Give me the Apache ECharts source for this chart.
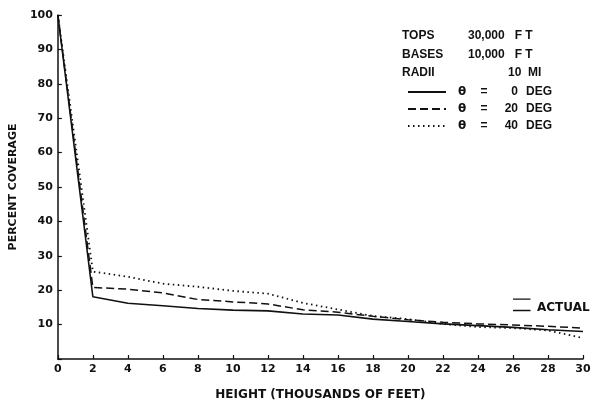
<!DOCTYPE html>
<html><head><meta charset="utf-8">
<script src="https://cdn.jsdelivr.net/npm/echarts@6/dist/echarts.min.js"></script>
<style>html,body{margin:0;padding:0;background:#fff}#c{width:605px;height:406px}</style>
</head><body><div id="c"></div>
<script>
const heights = [0, 2, 4, 6, 8, 10, 12, 14, 16, 18, 20, 22, 24, 26, 28, 30];
const theta0 = [100, 18.1, 16.2, 15.5, 14.7, 14.2, 14.0, 13.1, 12.8, 11.6, 10.9, 10.2, 9.7, 9.2, 8.5, 8.0];
const theta20 = [100, 20.8, 20.3, 19.2, 17.3, 16.6, 16.0, 14.3, 13.6, 12.4, 11.4, 10.7, 10.2, 9.9, 9.5, 9.0];
const theta40 = [100, 25.4, 23.9, 21.9, 21.0, 19.8, 19.0, 16.3, 14.4, 12.5, 11.6, 10.2, 9.3, 9.0, 8.3, 6.1];
const seriesNames = ['θ = 0 DEG', 'θ = 20 DEG', 'θ = 40 DEG'];
const actualX = [26, 27];
const actualHigh = 17.4;
const actualLow = 14.1;
const xTicks = [0,2,4,6,8,10,12,14,16,18,20,22,24,26,28,30];
const yTicks = [10,20,30,40,50,60,70,80,90,100];

const FONT = 'DejaVu Sans';
const LFONT = 'Liberation Sans';
const HFONT = 'bold 12px "Liberation Sans"';
const pairs = arr => heights.map((h, i) => [h, arr[i]]);
const chart = echarts.init(document.getElementById('c'), null, {renderer: 'canvas'});
const lineBase = {type: 'line', symbol: 'none', silent: true, animation: false};
chart.setOption({
  animation: false,
  backgroundColor: '#fff',
  grid: {left: 55, right: 22, top: 15, bottom: 43, containLabel: false},
  xAxis: {
    type: 'value', min: 0, max: 30, interval: 2,
    name: 'HEIGHT (THOUSANDS OF FEET)', nameLocation: 'middle', nameGap: 30,
    nameTextStyle: {fontFamily: FONT, fontSize: 12, fontWeight: 'bold', color: '#111'},
    axisLine: {lineStyle: {color: '#111', width: 1.5}},
    axisTick: {inside: true, length: 4, lineStyle: {color: '#111', width: 1.2}},
    axisLabel: {fontFamily: FONT, fontSize: 11, fontWeight: 'bold', color: '#111', margin: 5,
      formatter: v => xTicks.includes(v) ? String(v) : ''},
    splitLine: {show: false}
  },
  yAxis: {
    type: 'value', min: 0, max: 100, interval: 10,
    name: 'PERCENT COVERAGE', nameLocation: 'middle', nameGap: 28,
    nameTextStyle: {fontFamily: FONT, fontSize: 11, fontWeight: 'bold', color: '#111'},
    axisLine: {show: true, lineStyle: {color: '#111', width: 1.5}},
    axisTick: {show: true, inside: true, length: 4, lineStyle: {color: '#111', width: 1.2}},
    axisLabel: {fontFamily: FONT, fontSize: 11, fontWeight: 'bold', color: '#111', margin: 5,
      formatter: v => yTicks.includes(v) ? String(v) : ''},
    splitLine: {show: false}
  },
  legend: {
    orient: 'vertical', left: 402, top: 81,
    itemWidth: 38, itemHeight: 14, itemGap: 5,
    itemStyle: {opacity: 0},
    data: seriesNames,
    textStyle: {fontFamily: LFONT, fontSize: 12, fontWeight: 'bold', color: '#111',
      rich: {
        a: {fontFamily: FONT, fontSize: 12, fontWeight: 'bold', width: 22, align: 'right', color: '#111'},
        b: {fontFamily: LFONT, fontSize: 12, fontWeight: 'bold', width: 22, align: 'center', color: '#111'},
        c: {fontFamily: LFONT, fontSize: 12, fontWeight: 'bold', width: 23, align: 'right', color: '#111'},
        d: {fontFamily: LFONT, fontSize: 12, fontWeight: 'bold', width: 34, align: 'right', color: '#111'}
      }},
    formatter: name => {
      const m = name.match(/θ = (\d+) DEG/);
      return '{a|θ}{b|=}{c|' + m[1] + '}{d|DEG}';
    }
  },
  graphic: [
    {type: 'text', left: 402, top: 30, style: {text: 'TOPS', font: HFONT, fill: '#111'}},
    {type: 'text', left: 468, top: 30, style: {text: '30,000   F T', font: HFONT, fill: '#111'}},
    {type: 'text', left: 402, top: 49, style: {text: 'BASES', font: HFONT, fill: '#111'}},
    {type: 'text', left: 468, top: 49, style: {text: '10,000   F T', font: HFONT, fill: '#111'}},
    {type: 'text', left: 402, top: 67, style: {text: 'RADII', font: HFONT, fill: '#111'}},
    {type: 'text', left: 508, top: 67, style: {text: '10  MI', font: HFONT, fill: '#111'}},
    {type: 'text', left: 537, top: 302, style: {text: 'ACTUAL', font: 'bold 12px "DejaVu Sans"', fill: '#111'}}
  ],
  series: [
    Object.assign({}, lineBase, {name: seriesNames[0], data: pairs(theta0),
      lineStyle: {color: '#111', width: 1.6, type: 'solid'}, itemStyle: {color: '#111'}}),
    Object.assign({}, lineBase, {name: seriesNames[1], data: pairs(theta20),
      lineStyle: {color: '#111', width: 1.5, type: [8, 4]}, itemStyle: {color: '#111'}}),
    Object.assign({}, lineBase, {name: seriesNames[2], data: pairs(theta40),
      lineStyle: {color: '#111', width: 1.8, type: [1.5, 3.5]}, itemStyle: {color: '#111'}}),
    Object.assign({}, lineBase, {name: 'ACTUAL high', data: actualX.map(x => [x, actualHigh]),
      lineStyle: {color: '#111', width: 1.4}}),
    Object.assign({}, lineBase, {name: 'ACTUAL low', data: actualX.map(x => [x, actualLow]),
      lineStyle: {color: '#111', width: 1.4}})
  ]
});
</script></body></html>
